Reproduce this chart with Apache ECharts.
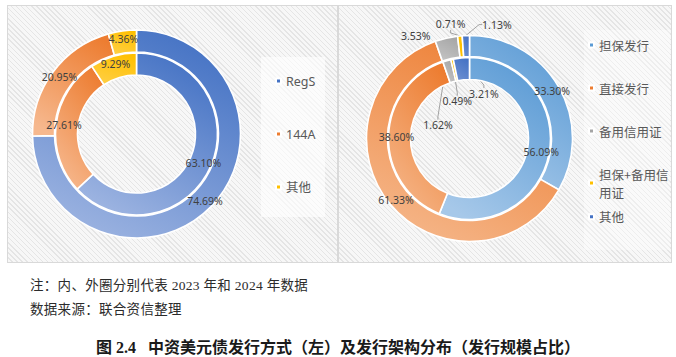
<!DOCTYPE html>
<html>
<head>
<meta charset="utf-8">
<script src="https://cdn.jsdelivr.net/npm/echarts@6/dist/echarts.min.js"></script>
<style>
  html, body { margin: 0; padding: 0; background: #ffffff; }
  #wrap { position: relative; width: 676px; height: 357px; overflow: hidden; }
  .panel { position: absolute; box-sizing: border-box; border: 1px solid #d9d9d9;
    background: repeating-linear-gradient(45deg, #f7f7f7 0px, #f7f7f7 2.6px, #e5e5e5 2.6px, #e5e5e5 3.6px); }
  .lbox { position: absolute; }
  #chart { position: absolute; left: 0; top: 0; width: 676px; height: 357px; }
  .note { position: absolute; left: 30px; font-family: "Liberation Serif", "Noto Sans CJK SC", serif; font-size: 13.5px; color: #2b2b2b; white-space: nowrap; letter-spacing: 0.3px; }
  .cap { position: absolute; left: 0; width: 676px; text-align: center; font-family: "Liberation Serif", "Noto Sans CJK SC", serif; font-size: 16px; font-weight: bold; color: #1a1a1a; white-space: nowrap; }
</style>
</head>
<body>
<div id="wrap">
  <div class="panel" style="left:7px;top:5px;width:331px;height:258px;"></div>
  <div class="panel" style="left:338px;top:5px;width:334px;height:258px;"></div>
  <div class="lbox" style="left:261px;top:57px;width:64px;height:160px;background:rgba(255,255,255,0.6);"></div>
  <div class="lbox" style="left:584px;top:30px;width:86px;height:220px;background:rgba(255,255,255,0.35);"></div>
  <div id="chart"></div>
  <div class="note" style="top:274px;">注：内、外圈分别代表 2023 年和 2024 年数据</div>
  <div class="note" style="top:298px;">数据来源：联合资信整理</div>
  <div class="cap" style="top:334px;">图 2.4&nbsp;&nbsp;&nbsp;中资美元债发行方式（左）及发行架构分布（发行规模占比）</div>
</div>
<script>
// ---- data ----
const leftNames = ['RegS', '144A', '其他'];
const left2023 = [63.10, 27.61, 9.29];   // inner ring
const left2024 = [74.69, 20.95, 4.36];   // outer ring

const rightNames = ['担保发行', '直接发行', '备用信用证', '担保+备用信用证', '其他'];
const right2023 = [56.09, 38.60, 1.62, 0.49, 3.21];  // inner ring
const right2024 = [33.30, 61.33, 3.53, 0.71, 1.13];  // outer ring

// ---- styles ----
const leftColors = [['#4472C4', '#9DB4E1'], ['#ED7D31', '#F6B88E'], ['#FFC000', '#FFCF45']];
const rightColors = [['#5B9BD5', '#A6C8E9'], ['#ED7D31', '#F5B689'], ['#A5A5A5', '#C4C4C4'], ['#FFC000', '#FFC000'], ['#4472C4', '#6E90D1']];
const legendSolidLeft = ['#4472C4', '#ED7D31', '#FFC000'];
const legendSolidRight = ['#5B9BD5', '#ED7D31', '#A5A5A5', '#FFC000', '#4472C4'];

// label shifts (relative to each small sector's box) for the tiny slices
const outerShift = { 2: [-32, -13], 3: [-10, -22], 4: [31, -21.5] };
const innerShift = { 2: [-11.5, 54], 3: [3, 31], 4: [22.5, 24.5] };
const noLineOuter = { 2: true };

function grad(c) {
  return { type: 'linear', x: 0.75, y: 0, x2: 0.25, y2: 1,
    colorStops: [{ offset: 0, color: c[0] }, { offset: 1, color: c[1] }] };
}
function buildData(names, vals, colors, shifts, noLine) {
  return names.map((n, i) => {
    const d = { name: n, value: vals[i], itemStyle: { color: grad(colors[i]) } };
    if (shifts && shifts[i]) {
      d.label = { position: 'outside' };
      d.labelLine = { show: !(noLine && noLine[i]), length: 6, length2: 3 };
    }
    return d;
  });
}
function shiftLayout(shifts) {
  return function (p) {
    const s = shifts[p.dataIndex];
    if (!s) return {};
    return {
      x: p.rect.x + p.rect.width / 2 + s[0],
      y: p.rect.y + p.rect.height / 2 + s[1],
      align: 'center', verticalAlign: 'middle'
    };
  };
}

const labelFont = '"Noto Sans", "Liberation Sans", sans-serif';
const baseSeries = {
  type: 'pie', startAngle: 90, clockwise: true, avoidLabelOverlap: false,
  animation: false, silent: true,
  itemStyle: { borderColor: '#ffffff', borderWidth: 1.6 },
  label: { show: true, position: 'inside', fontSize: 10.5, color: '#404040', fontFamily: labelFont,
    formatter: p => p.value.toFixed(2) + '%' },
  labelLine: { show: true, length: 6, length2: 3, lineStyle: { color: '#8c8c8c', width: 0.8 } },
  emphasis: { disabled: true }
};

const leftCenter = [136.5, 134];
const rightCenter = [469.5, 138.5];

const option = {
  backgroundColor: 'transparent',
  legend: [
    { orient: 'vertical', left: 275, top: 74, padding: 0, itemGap: 39, itemWidth: 5, itemHeight: 5, icon: 'rect',
      textStyle: { fontSize: 12.5, lineHeight: 14, color: '#595959', fontFamily: '"Noto Sans", "Noto Sans CJK SC", sans-serif' },
      data: leftNames.map((n, i) => ({ name: n, itemStyle: { color: legendSolidLeft[i] } })), selectedMode: false },
    { orient: 'vertical', left: 588, top: 36, padding: 0, itemGap: 25, itemWidth: 5, itemHeight: 5, icon: 'rect',
      textStyle: { fontSize: 12.5, lineHeight: 18, color: '#595959', fontFamily: '"Noto Sans CJK SC", sans-serif' },
      formatter: n => (n.length > 6 ? n.slice(0, 6) + '\n' + n.slice(6) : n),
      data: rightNames.slice(0, 4).map((n, i) => ({ name: n, itemStyle: { color: legendSolidRight[i] } })), selectedMode: false },
    { orient: 'vertical', left: 588, top: 207.7, padding: 0, itemWidth: 5, itemHeight: 5, icon: 'rect',
      textStyle: { fontSize: 12.5, lineHeight: 18, color: '#595959', fontFamily: '"Noto Sans CJK SC", sans-serif' },
      data: [{ name: rightNames[4], itemStyle: { color: legendSolidRight[4] } }], selectedMode: false }
  ],
  series: [
    Object.assign({}, baseSeries, { name: 'L2023', center: leftCenter, radius: [59, 81],
      data: buildData(leftNames, left2023, leftColors) }),
    Object.assign({}, baseSeries, { name: 'L2024', center: leftCenter, radius: [82, 104],
      data: buildData(leftNames, left2024, leftColors) }),
    Object.assign({}, baseSeries, { name: 'R2023', center: rightCenter, radius: [59, 81],
      data: buildData(rightNames, right2023, rightColors, innerShift),
      labelLayout: shiftLayout(innerShift) }),
    Object.assign({}, baseSeries, { name: 'R2024', center: rightCenter, radius: [82, 103],
      data: buildData(rightNames, right2024, rightColors, outerShift, noLineOuter),
      labelLayout: shiftLayout(outerShift) })
  ]
};

const chart = echarts.init(document.getElementById('chart'), null, { renderer: 'svg', width: 676, height: 357 });
chart.setOption(option);
</script>
</body>
</html>
